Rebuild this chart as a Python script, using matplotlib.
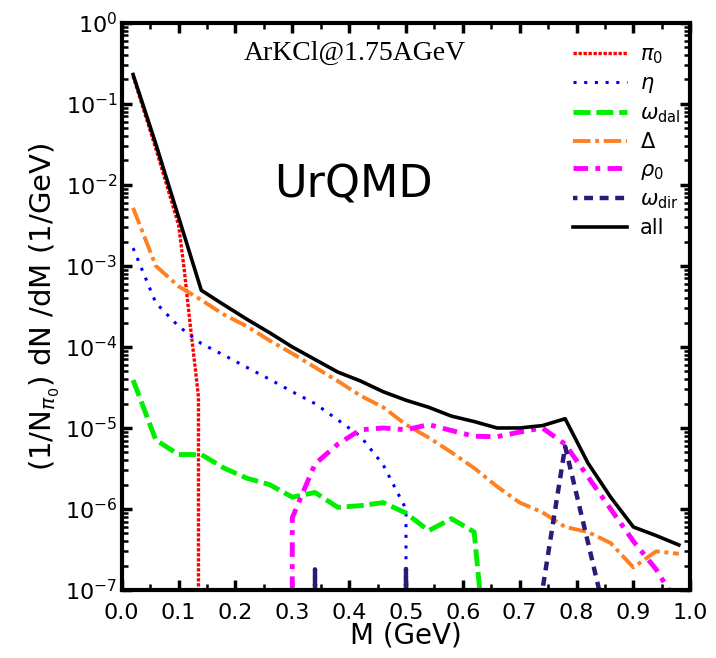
import matplotlib
matplotlib.use("Agg")
import matplotlib.pyplot as plt
import numpy as np

# mass bins (GeV)
m = [0.02, 0.06, 0.10, 0.14, 0.18, 0.22, 0.26, 0.30, 0.34, 0.38, 0.42, 0.46, 0.50,
     0.54, 0.58, 0.62, 0.66, 0.70, 0.74, 0.78, 0.82, 0.86, 0.90, 0.94, 0.98]

# pi0 dalitz uses finer points near its endpoint
m_pi0 = [0.02, 0.06, 0.10, 0.11, 0.12, 0.13, 0.135, 0.14]
pi0 = [2.2e-1, 2.8e-2, 3.2e-3, 9.0e-4, 2.0e-4, 5.0e-5, 2.4e-5, 0]

eta = [1.66e-3, 3.5e-4, 1.8e-4, 1.1e-4, 7.9e-5, 5.6e-5, 4.0e-5, 2.8e-5, 2.0e-5,
       1.26e-5, 7.9e-6, 3.5e-6, 1.0e-6, 0, 0, 0, 0, 0, 0, 0, 0, 0, 0, 0, 0]

omega_dal = [3.9e-5, 7.1e-6, 4.7e-6, 4.7e-6, 3.2e-6, 2.4e-6, 2.0e-6, 1.4e-6, 1.6e-6,
             1.05e-6, 1.1e-6, 1.2e-6, 8.9e-7, 5.4e-7, 7.6e-7, 5.2e-7, 6e-10, 0, 0,
             0, 0, 0, 0, 0, 0]

delta = [5.2e-3, 1.0e-3, 5.6e-4, 3.8e-4, 2.5e-4, 1.8e-4, 1.2e-4, 8.3e-5, 5.6e-5,
         3.8e-5, 2.5e-5, 1.8e-5, 1.1e-5, 7.6e-6, 5.0e-6, 3.2e-6, 1.9e-6, 1.2e-6,
         9.1e-7, 6.0e-7, 5.2e-7, 3.8e-7, 1.9e-7, 3.0e-7, 2.8e-7]

rho0 = [0, 0, 0, 0, 0, 0, 0, 7.8e-7, 3.6e-6, 6.3e-6, 9.5e-6, 1.0e-5, 9.5e-6,
        1.1e-5, 9.3e-6, 7.9e-6, 7.8e-6, 8.9e-6, 1.0e-5, 6.3e-6, 2.5e-6, 1.0e-6,
        4.0e-7, 1.8e-7, 6.3e-8]

omega_dir = [0, 0, 0, 0, 0, 0, 0, 0, 1.8e-7, 0, 0, 0, 1.8e-7, 0, 0, 0, 0, 0,
             1.0e-7, 5.9e-6, 3.9e-7, 2.5e-8, 0, 0, 0]

total = [2.3e-1, 3.2e-2, 4.0e-3, 5.0e-4, 3.3e-4, 2.2e-4, 1.5e-4, 1.0e-4, 7.0e-5,
         4.9e-5, 3.8e-5, 2.8e-5, 2.2e-5, 1.8e-5, 1.4e-5, 1.2e-5, 1.0e-5, 1.0e-5,
         1.07e-5, 1.3e-5, 3.7e-6, 1.4e-6, 6.0e-7, 4.7e-7, 3.6e-7]

fig = plt.figure(figsize=(7.16, 6.58), dpi=100)
ax = fig.add_axes([0.170, 0.1033, 0.794, 0.862])

ax.plot(m_pi0, pi0, color='#ff0000', lw=2.4, dashes=(1.0, 0.5), label=r'$\pi_0$')
ax.plot(m, eta, color='#0000ff', lw=2.2, dashes=(1.0, 2.5), label=r'$\eta$')
ax.plot(m, omega_dal, color='#00ee00', lw=3.5, dashes=(3.5, 1.2), label=r'$\omega_{\mathrm{dal}}$')
ax.plot(m, delta, color='#ff8020', lw=2.8, dashes=(4.5, 1.2, 1.0, 1.2), label=r'$\Delta$')
ax.plot(m, rho0, color='#ff00ff', lw=3.5, dashes=(3.0, 1.5, 1.0, 1.5), label=r'$\rho_0$')
ax.plot(m, omega_dir, color='#2e1878', lw=3.2, linestyle=(1.0, (2.0, 1.5)), label=r'$\omega_{\mathrm{dir}}$')
ax.plot(m, total, color='black', lw=2.6, label='all')

ax.set_yscale('log')
ax.set_xlim(0.0, 1.0)
ax.set_ylim(1e-7, 1.0)
ax.set_xticks(np.arange(0, 1.01, 0.1))
ax.set_xticks(np.arange(0.05, 1.0, 0.1), minor=True)
ax.set_xticklabels(['%.1f' % v for v in np.arange(0, 1.01, 0.1)])

for s in ax.spines.values():
    s.set_linewidth(3.0)
ax.tick_params(which='both', direction='in', top=True, right=True, labelsize=16)
ax.tick_params(which='major', length=7, width=2.5)
ax.tick_params(which='minor', length=4, width=1.8)
ax.tick_params(axis='x', which='major', pad=9)
ax.tick_params(axis='y', which='major', pad=3)

ax.set_xlabel('M (GeV)', fontsize=20, labelpad=-1)
ax.set_ylabel(r'(1/N$_{\pi_0}$) dN /dM (1/GeV)', fontsize=21, labelpad=2)

ax.text(0.41, 0.947, 'ArKCl@1.75AGeV', transform=ax.transAxes, ha='center', va='center',
        fontsize=20, family='Liberation Serif')
ax.text(0.408, 0.714, 'UrQMD', transform=ax.transAxes, ha='center', va='center',
        fontsize=32)

leg = ax.legend(loc='upper left', bbox_to_anchor=(0.794, 0.962), frameon=False,
                fontsize=15, handlelength=2.6, labelspacing=0.36, handletextpad=0.6,
                borderaxespad=0, borderpad=0)

fig.savefig('out.png', dpi=100)
